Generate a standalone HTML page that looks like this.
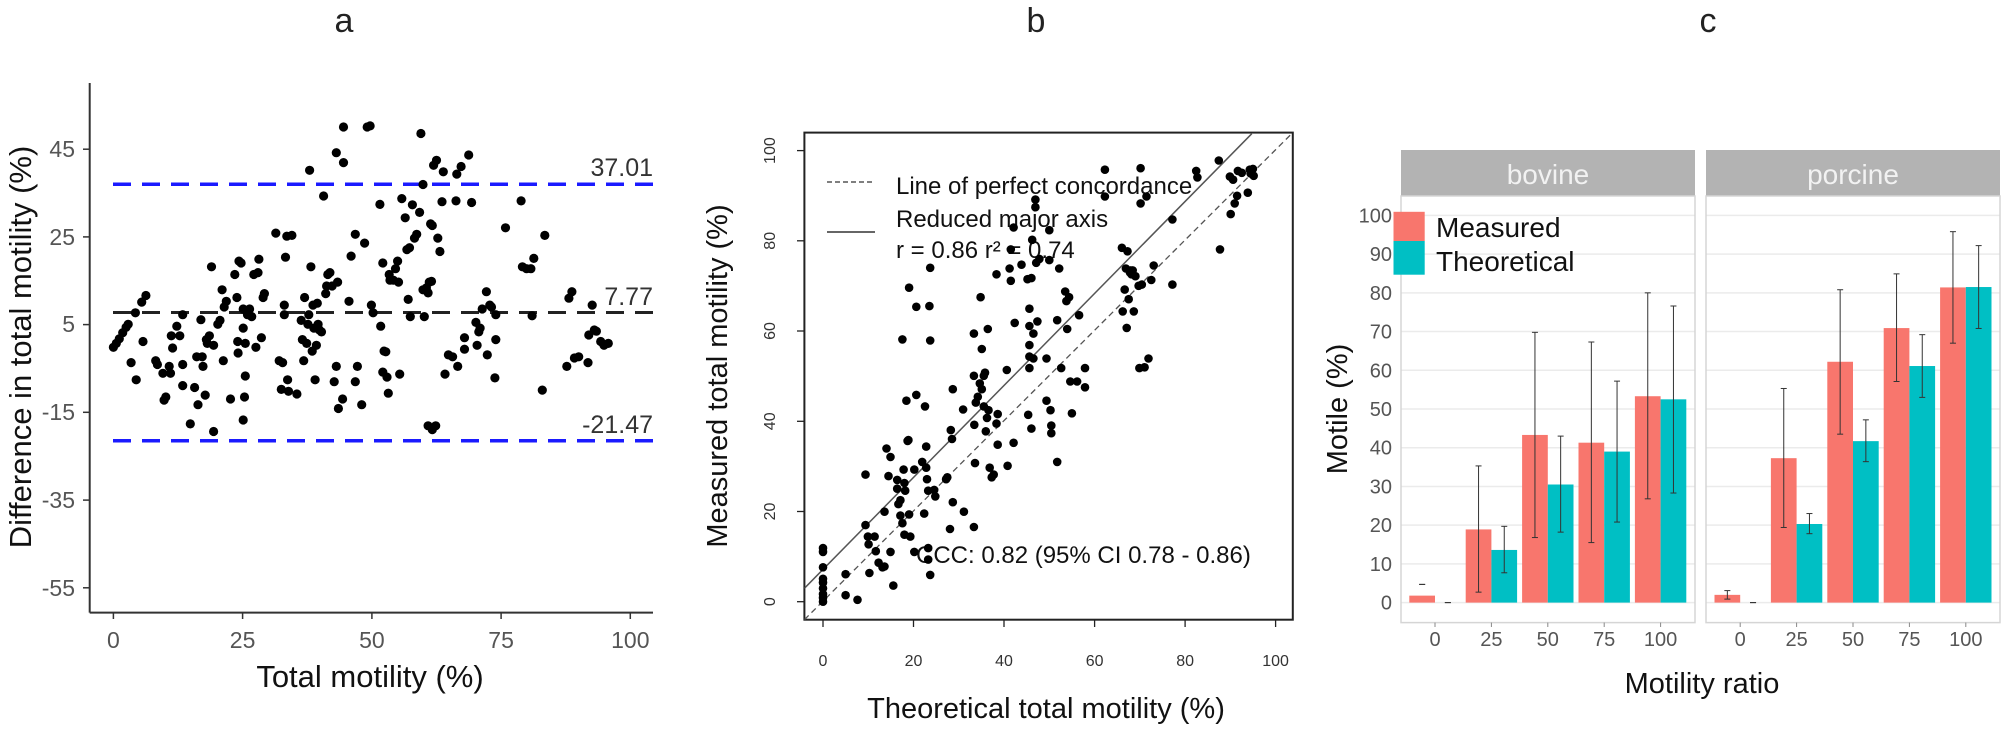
<!DOCTYPE html>
<html><head><meta charset="utf-8"><style>
html,body{margin:0;padding:0;background:#fff;}
svg{display:block;font-family:"Liberation Sans",sans-serif;}
</style></head><body>
<svg id="s" width="2008" height="749" xmlns="http://www.w3.org/2000/svg">
<rect width="2008" height="749" fill="#fff"/>
<!-- titles -->
<text x="344" y="32" font-size="34" text-anchor="middle" fill="#222">a</text>
<text x="1036" y="32" font-size="34" text-anchor="middle" fill="#222">b</text>
<text x="1708" y="32" font-size="34" text-anchor="middle" fill="#222">c</text>

<!-- Panel a -->
<g id="pa">
<line x1="89.7" y1="83" x2="89.7" y2="612.6" stroke="#333" stroke-width="2"/>
<line x1="89.7" y1="612.6" x2="653" y2="612.6" stroke="#333" stroke-width="2"/>
<g fill="#555" font-size="23" text-anchor="end">
<text x="75" y="157">45</text><text x="75" y="245">25</text><text x="75" y="332">5</text>
<text x="75" y="420">-15</text><text x="75" y="508">-35</text><text x="75" y="596">-55</text>
</g>
<g stroke="#333" stroke-width="1.5">
<line x1="83" y1="149.2" x2="89.7" y2="149.2"/><line x1="83" y1="236.9" x2="89.7" y2="236.9"/>
<line x1="83" y1="324.6" x2="89.7" y2="324.6"/><line x1="83" y1="412.3" x2="89.7" y2="412.3"/>
<line x1="83" y1="500.1" x2="89.7" y2="500.1"/><line x1="83" y1="587.8" x2="89.7" y2="587.8"/>
<line x1="113.4" y1="612.6" x2="113.4" y2="619"/><line x1="242.6" y1="612.6" x2="242.6" y2="619"/>
<line x1="371.9" y1="612.6" x2="371.9" y2="619"/><line x1="501.1" y1="612.6" x2="501.1" y2="619"/>
<line x1="630.3" y1="612.6" x2="630.3" y2="619"/>
</g>
<g fill="#555" font-size="23" text-anchor="middle">
<text x="113.4" y="648">0</text><text x="242.6" y="648">25</text><text x="371.9" y="648">50</text>
<text x="501.1" y="648">75</text><text x="630.3" y="648">100</text>
</g>
<text x="370" y="687" font-size="31" text-anchor="middle" fill="#111">Total motility (%)</text>
<text transform="translate(31,347) rotate(-90)" font-size="31" text-anchor="middle" fill="#111">Difference in total motility (%)</text>
<line x1="113" y1="184.2" x2="653" y2="184.2" stroke="#1a1aff" stroke-width="3.5" stroke-dasharray="18,11"/>
<line x1="113" y1="440.7" x2="653" y2="440.7" stroke="#1a1aff" stroke-width="3.5" stroke-dasharray="18,11"/>
<line x1="113" y1="312.5" x2="653" y2="312.5" stroke="#222" stroke-width="3" stroke-dasharray="18,11"/>
<g fill="#333" font-size="25" text-anchor="end">
<text x="653" y="176">37.01</text><text x="653" y="305">7.77</text><text x="653" y="433">-21.47</text>
</g>
<g id="dotsA" fill="#000"></g>
</g>

<!-- Panel b -->
<g id="pb">
<rect x="804.4" y="132.6" width="488.4" height="487.1" fill="none" stroke="#222" stroke-width="2"/>
<g stroke="#222" stroke-width="1.3">
<line x1="797" y1="601.7" x2="804.4" y2="601.7"/><line x1="797" y1="511.5" x2="804.4" y2="511.5"/>
<line x1="797" y1="421.3" x2="804.4" y2="421.3"/><line x1="797" y1="331" x2="804.4" y2="331"/>
<line x1="797" y1="240.8" x2="804.4" y2="240.8"/><line x1="797" y1="150.6" x2="804.4" y2="150.6"/>
<line x1="823" y1="619.7" x2="823" y2="627"/><line x1="913.5" y1="619.7" x2="913.5" y2="627"/>
<line x1="1004" y1="619.7" x2="1004" y2="627"/><line x1="1094.6" y1="619.7" x2="1094.6" y2="627"/>
<line x1="1185.1" y1="619.7" x2="1185.1" y2="627"/><line x1="1275.6" y1="619.7" x2="1275.6" y2="627"/>
</g>
<g fill="#333" font-size="16">
<text transform="translate(775,601.7) rotate(-90)" text-anchor="middle">0</text>
<text transform="translate(775,511.5) rotate(-90)" text-anchor="middle">20</text>
<text transform="translate(775,421.3) rotate(-90)" text-anchor="middle">40</text>
<text transform="translate(775,331) rotate(-90)" text-anchor="middle">60</text>
<text transform="translate(775,240.8) rotate(-90)" text-anchor="middle">80</text>
<text transform="translate(775,150.6) rotate(-90)" text-anchor="middle">100</text>
</g>
<g fill="#333" font-size="16" text-anchor="middle">
<text x="823" y="666">0</text><text x="913.5" y="666">20</text><text x="1004" y="666">40</text>
<text x="1094.6" y="666">60</text><text x="1185.1" y="666">80</text><text x="1275.6" y="666">100</text>
</g>
<text x="1046" y="718" font-size="29" text-anchor="middle" fill="#111">Theoretical total motility (%)</text>
<text transform="translate(727,376) rotate(-90)" font-size="29" text-anchor="middle" fill="#111">Measured total motility (%)</text>
<defs><clipPath id="cb"><rect x="804.4" y="132.6" width="488.4" height="487.1"/></clipPath></defs>
<g clip-path="url(#cb)">
<line x1="804.4" y1="619.7" x2="1292.8" y2="132.6" stroke="#555" stroke-width="1.3" stroke-dasharray="6,4"/>
<line x1="804.4" y1="588.3" x2="1251.8" y2="133.7" stroke="#555" stroke-width="1.5"/>
</g>
<line x1="827" y1="182" x2="875" y2="182" stroke="#333" stroke-width="1.3" stroke-dasharray="5,3"/>
<line x1="827" y1="232" x2="875" y2="232" stroke="#333" stroke-width="1.5"/>
<g fill="#111" font-size="24">
<text x="896" y="194">Line of perfect concordance</text>
<text x="896" y="227">Reduced major axis</text>
<text x="896" y="258">r = 0.86  r² = 0.74</text>
<text x="916" y="563">CCC: 0.82 (95% CI 0.78 - 0.86)</text>
</g>
<g id="dotsB" fill="#000"></g>
</g>

<!-- Panel c -->
<g id="pc">
<rect x="1401" y="150" width="294" height="46" fill="#b3b3b3"/>
<rect x="1706" y="150" width="294" height="46" fill="#b3b3b3"/>
<text x="1548" y="184" font-size="28" text-anchor="middle" fill="#f2f2f2">bovine</text>
<text x="1853" y="184" font-size="28" text-anchor="middle" fill="#f2f2f2">porcine</text>
<g id="cgrid"></g>
<rect x="1401" y="196" width="294" height="426.6" fill="none" stroke="#d5d5d5" stroke-width="1.5"/>
<rect x="1706" y="196" width="294" height="426.6" fill="none" stroke="#d5d5d5" stroke-width="1.5"/>
<g id="cbars"></g>
<g id="cyl" fill="#555" font-size="20" text-anchor="end"></g>
<g id="cxl" fill="#555" font-size="20" text-anchor="middle"></g>
<text x="1702" y="693" font-size="29" text-anchor="middle" fill="#111">Motility ratio</text>
<text transform="translate(1347,409) rotate(-90)" font-size="29" text-anchor="middle" fill="#111">Motile (%)</text>
<rect x="1393.5" y="211.8" width="31.2" height="29.2" fill="#F8766D"/>
<rect x="1393.5" y="241" width="31.2" height="33.7" fill="#00BFC4"/>
<text x="1436" y="237" font-size="28" fill="#111">Measured</text>
<text x="1436" y="271" font-size="28" fill="#111">Theoretical</text>
</g>
</svg>
<script>
var NS="http://www.w3.org/2000/svg";
function el(p,t,a,txt){var e=document.createElementNS(NS,t);for(var k in a)e.setAttribute(k,a[k]);if(txt!=null)e.textContent=txt;p.appendChild(e);return e;}
var A=[[268,750],[275,740],[282,728],[290,712],[298,698],[303,690],[310,790],[320,660],[322,835],[335,632],[338,735],[345,615],[368,785],[372,795],[385,818],[388,888],[392,880],[400,800],[403,818],[405,720],[408,752],[418,695],[425,720],[432,795],[432,850],[432,665],[450,950],[460,855],[465,775],[468,900],[475,678],[478,775],[480,800],[485,875],[488,730],[490,740],[495,720],[500,540],[505,745],[505,970],[515,690],[520,680],[525,600],[528,785],[530,645],[535,630],[545,885],[555,560],[560,620],[562,735],[563,765],[565,525],[570,530],[575,940],[575,700],[578,880],[580,825],[580,740],[575,650],[585,665],[590,650],[595,670],[600,560],[605,750],[610,555],[612,520],[618,725],[622,620],[625,610],[652,452],[660,785],[665,860],[668,790],[672,665],[672,640],[675,515],[678,460],[680,835],[682,865],[690,458],[702,872],[712,680],[715,730],[718,785],[720,620],[725,740],[728,690],[730,665],[735,540],[732,288],[738,760],[740,640],[742,700],[745,835],[748,745],[750,635],[752,690],[755,705],[760,710],[765,355],[770,610],[772,590],[775,560],[780,555],[785,590],[790,840],[795,800],[798,580],[795,242],[800,910],[810,885],[812,268],[812,175],[825,630],[830,512],[840,840],[840,455],[845,800],[855,900],[862,478],[868,175],[875,172],[878,640],[882,660],[898,377],[900,695],[905,530],[905,815],[908,760],[912,762],[915,828],[918,870],[920,560],[922,575],[930,575],[935,545],[940,525],[942,580],[945,820],[950,362],[958,412],[962,495],[965,625],[968,490],[970,670],[975,378],[980,465],[985,455],[992,398],[995,192],[1000,325],[1000,600],[1003,670],[1008,595],[1012,608],[1015,580],[1018,428],[1020,578],[1022,432],[1025,275],[1030,955],[1032,262],[1035,465],[1040,500],[1045,370],[1048,292],[1052,820],[1060,770],[1070,775],[1078,368],[1080,298],[1082,800],[1090,278],[1098,725],[1098,755],[1108,248],[1115,372],[1125,685],[1128,745],[1132,710],[1135,700],[1140,650],[1150,605],[1152,770],[1158,640],[1162,645],[1170,830],[1172,665],[1172,730],[1195,438],[1232,368],[1235,540],[1245,545],[1255,545],[1258,668],[1262,518],[1282,862],[1288,458],[1340,800],[1345,622],[1352,605],[1358,778],[1368,775],[1390,790],[1392,718],[1400,640],[1405,705],[1410,708],[1420,735],[1428,745],[1438,740],[1022,965],[1012,955]];
var ga=document.getElementById("dotsA");
A.forEach(function(p){el(ga,"circle",{cx:(p[0]*0.423).toFixed(1),cy:(60+p[1]*0.383).toFixed(1),r:4.6});});
var B=[[335,1170],[335,1180],[335,1220],[335,1250],[335,1260],[335,1275],[335,1290],[335,1300],[335,1310],[392,1238],[392,1293],[422,1305],[442,978],[442,1110],[448,1140],[450,1160],[452,1235],[465,1140],[468,1178],[475,1208],[485,1220],[490,1218],[490,1075],[495,910],[500,982],[505,932],[505,1180],[512,1268],[522,992],[522,1015],[525,1055],[530,1045],[530,1085],[535,1105],[535,625],[538,965],[540,1000],[540,1135],[542,1020],[545,785],[548,890],[550,888],[552,490],[552,1082],[555,1140],[565,965],[565,1180],[570,770],[570,540],[585,945],[590,1080],[592,800],[595,960],[595,905],[597,990],[600,1170],[600,1200],[600,1020],[603,538],[605,628],[605,438],[605,1240],[615,1018],[618,1035],[645,990],[648,985],[655,1120],[657,862],[660,885],[662,755],[662,1050],[688,808],[690,1075],[715,610],[715,720],[715,1115],[716,848],[718,948],[720,790],[725,775],[730,740],[732,515],[735,650],[735,755],[740,720],[740,800],[743,712],[745,865],[748,830],[750,598],[752,810],[755,960],[760,985],[765,978],[772,455],[772,845],[775,820],[775,900],[798,705],[800,955],[805,440],[808,472],[808,390],[815,333],[815,895],[818,582],[835,430],[850,468],[852,822],[855,590],[855,640],[855,670],[855,700],[855,545],[860,858],[862,365],[865,675],[870,260],[870,280],[872,425],[875,578],[880,415],[898,675],[898,785],[905,418],[905,340],[908,810],[910,850],[910,870],[925,945],[925,575],[930,440],[935,700],[945,500],[948,525],[950,598],[955,515],[958,735],[962,818],[975,735],[980,562],[995,700],[995,750],[1045,182],[1045,252],[1088,386],[1090,552],[1095,495],[1098,440],[1100,595],[1102,395],[1105,520],[1108,450],[1112,455],[1115,445],[1118,552],[1122,460],[1130,485],[1132,700],[1138,482],[1135,178],[1135,270],[1145,698],[1150,252],[1155,675],[1162,470],[1168,432],[1215,312],[1215,482],[1275,185],[1278,202],[1332,158],[1335,390],[1360,200],[1362,298],[1368,208],[1372,270],[1378,250],[1380,185],[1390,190],[1405,242],[1410,182],[1412,192],[1418,180],[1420,198],[860,465],[865,610],[1110,445]];
var gb=document.getElementById("dotsB");
B.forEach(function(p){el(gb,"circle",{cx:(690+p[0]*0.397).toFixed(1),cy:(100+p[1]*0.383).toFixed(1),r:4.3});});
// panel c
function yv(v){return 602.6-v*3.872;}
var grid=document.getElementById("cgrid"),bars=document.getElementById("cbars"),yl=document.getElementById("cyl"),xl=document.getElementById("cxl");
[[1401,1695],[1706,2000]].forEach(function(r){
 for(var v=0;v<=100;v+=10){el(grid,"line",{x1:r[0],x2:r[1],y1:yv(v),y2:yv(v),stroke:"#ebebeb","stroke-width":1.5});}
});
for(var v=0;v<=100;v+=10){el(yl,"text",{x:1392,y:yv(v)+7},String(v));}
var facets=[{x0:1435,M:[1.8,18.9,43.3,41.3,53.3],T:[0,13.6,30.5,39,52.5],ME:[[4.7,4.7],[2.7,35.3],[16.8,69.8],[15.5,67.3],[26.8,80]],TE:[[0,0],[7.7,19.7],[18.2,43],[20.8,57.2],[28.3,76.6]]},
{x0:1740.2,M:[2,37.3,62.2,70.9,81.4],T:[0,20.3,41.7,61.1,81.5],ME:[[0.9,3.1],[19.4,55.3],[43.5,80.8],[57.1,84.9],[67,95.8]],TE:[[0,0],[17.8,23],[36.4,47.2],[53,69.2],[70.8,92.2]]}];
var labs=["0","25","50","75","100"],w=25.7;
facets.forEach(function(f){
 for(var i=0;i<5;i++){
  var c=f.x0+i*56.4;
  el(xl,"text",{x:c,y:646},labs[i]);
  el(bars,"line",{x1:c,x2:c,y1:622.6,y2:627,stroke:"#888"});
  if(f.M[i]>0)el(bars,"rect",{x:c-w,y:yv(f.M[i]),width:w,height:f.M[i]*3.872,fill:"#F8766D"});
  if(f.T[i]>0)el(bars,"rect",{x:c,y:yv(f.T[i]),width:w,height:f.T[i]*3.872,fill:"#00BFC4"});
  [[c-w/2,f.ME[i]],[c+w/2,f.TE[i]]].forEach(function(e){
   var x=e[0],lo=yv(e[1][0]),hi=yv(e[1][1]);
   el(bars,"line",{x1:x,x2:x,y1:lo,y2:hi,stroke:"#333","stroke-width":1});
   el(bars,"line",{x1:x-3,x2:x+3,y1:lo,y2:lo,stroke:"#333","stroke-width":1});
   el(bars,"line",{x1:x-3,x2:x+3,y1:hi,y2:hi,stroke:"#333","stroke-width":1});
  });
 }
});
</script>
</body></html>
